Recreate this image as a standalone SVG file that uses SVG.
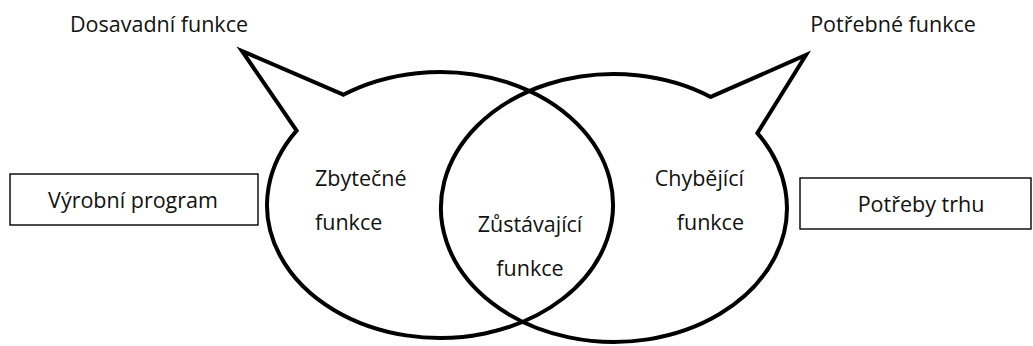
<svg xmlns="http://www.w3.org/2000/svg" width="1033" height="346" viewBox="0 0 1033 346">
  <style>
    .bubble { fill: none; stroke: #000; stroke-width: 4; stroke-linejoin: miter; }
    .box { fill: #fff; stroke: #000; stroke-width: 1.4; }
    text { font-family: "Open Sans", "Liberation Sans", sans-serif; font-size: 21.5px; fill: #111; }
    .mid { text-anchor: middle; }
    .end { text-anchor: end; }
  </style>
  <rect width="1033" height="346" fill="#fff"/>

  <!-- side boxes -->
  <g id="vyrobni-program">
    <rect class="box" x="10" y="174" width="248" height="51"/>
    <text class="mid" x="133" y="208">Výrobní program</text>
  </g>
  <g id="potreby-trhu">
    <rect class="box" x="800" y="178" width="231" height="51"/>
    <text class="mid" x="921" y="212">Potřeby trhu</text>
  </g>

  <!-- callout bubbles: ellipse with a wedge tail -->
  <g id="dosavadni-funkce">
    <path class="bubble" d="M 343.3,94.7 L 242,51 L 296.6,130.6 A 173 133 0 1 0 343.3,94.7 Z"/>
    <text class="mid" x="159" y="32">Dosavadní funkce</text>
    <text x="315" y="186">Zbytečné</text>
    <text x="315" y="230">funkce</text>
  </g>
  <g id="potrebne-funkce">
    <path class="bubble" d="M 710.7,96.9 L 806,55 L 757.4,133.1 A 173 134 0 1 1 710.7,96.9 Z"/>
    <text class="mid" x="893" y="32">Potřebné funkce</text>
    <text class="end" x="744" y="186">Chybějící</text>
    <text class="end" x="744" y="230">funkce</text>
  </g>

  <!-- overlap label -->
  <g id="zustavajici-funkce">
    <text class="mid" x="530" y="232">Zůstávající</text>
    <text class="mid" x="530" y="276">funkce</text>
  </g>

  <g id="connectors"/>
</svg>
